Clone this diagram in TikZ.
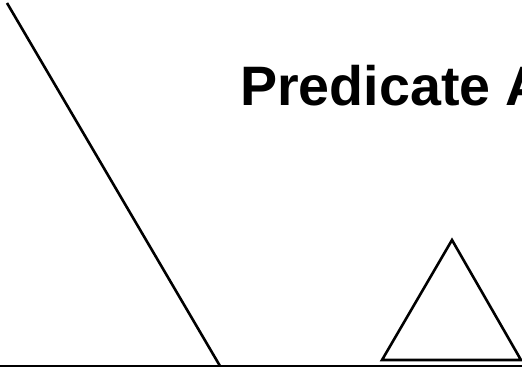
\documentclass[tikz,border=0pt]{standalone}
\usepackage{fontspec}
\setmainfont{Liberation Sans}
\begin{document}
\begin{tikzpicture}[x=1pt,y=-1pt,
  stroke/.style={line width=2.6pt,line join=miter}]
\useasboundingbox (0,0) rectangle (522,369);
\draw[stroke] (7,3) -- (220,366);
\draw[line width=2.4pt] (0,366) -- (522,366);
\draw[stroke] (382,360) -- (452,240) -- (521,360) -- cycle;
\node[anchor=base west,inner sep=0pt,font=\fontsize{55.6}{60}\selectfont\bfseries] (title) at (240,105) {Predicate A};
\end{tikzpicture}
\end{document}
